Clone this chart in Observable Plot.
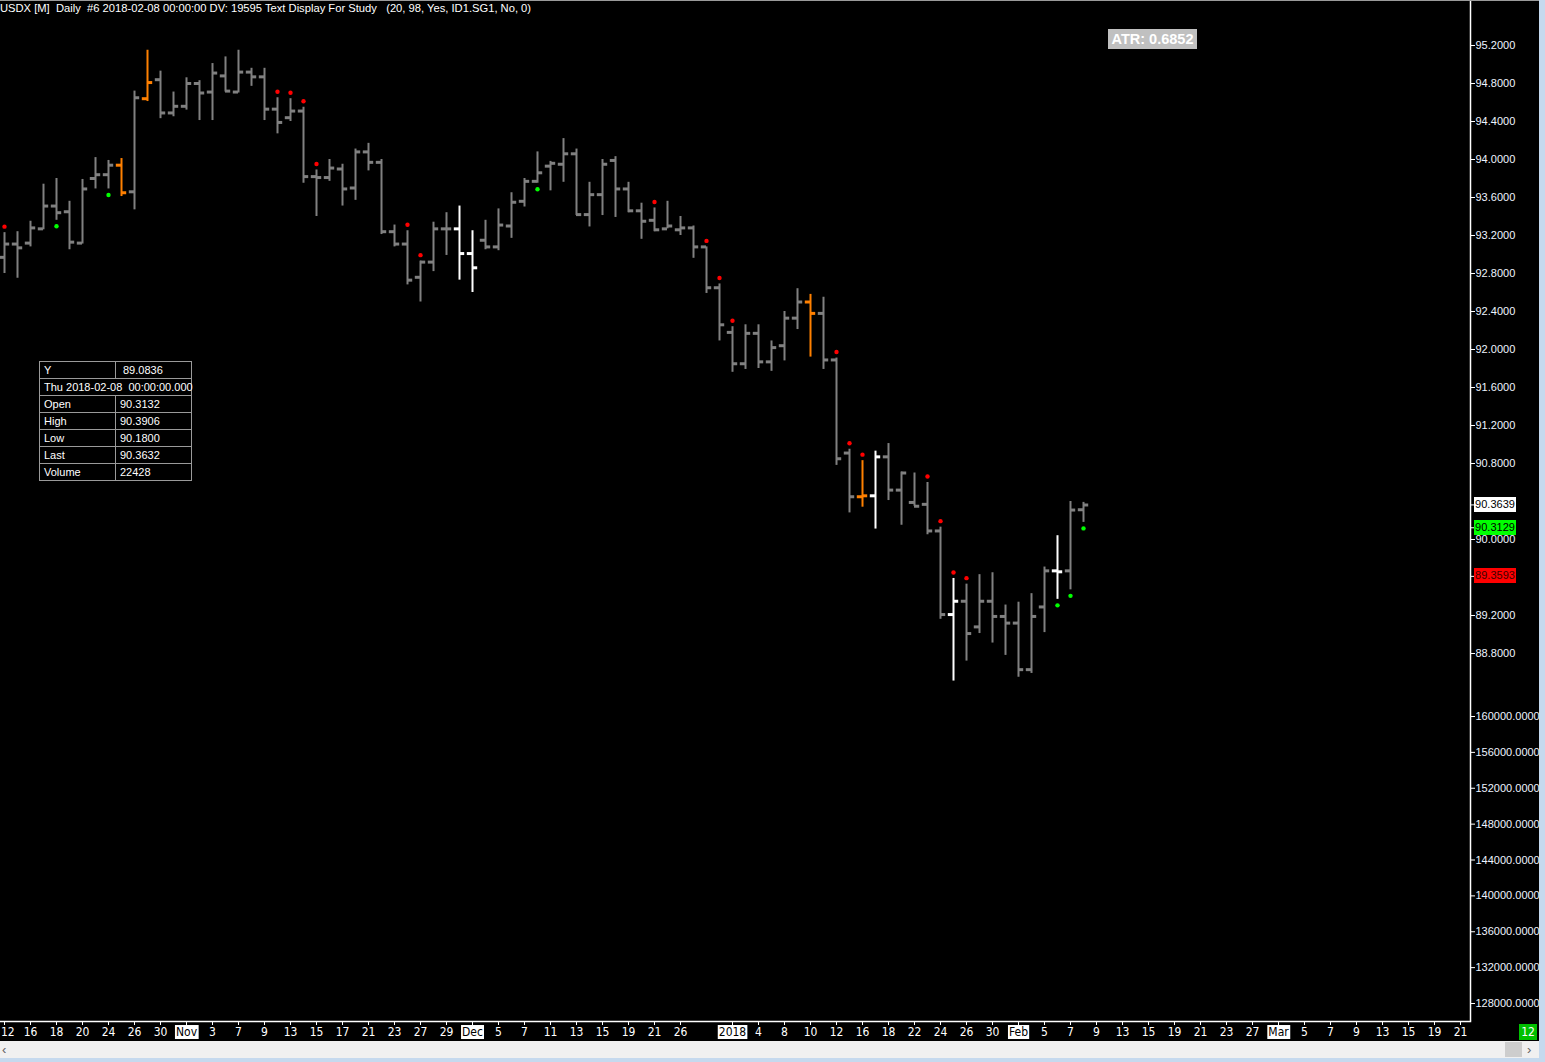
<!DOCTYPE html>
<html><head><meta charset="utf-8">
<script src="https://cdn.jsdelivr.net/npm/d3@7"></script>
<script src="https://cdn.jsdelivr.net/npm/@observablehq/plot@0.6"></script>
<style>
html,body{margin:0;padding:0;background:#000;overflow:hidden;}
#wrap{position:relative;width:1545px;height:1062px;background:#000;overflow:hidden;font-family:"Liberation Sans",Arial,sans-serif;}
#wrap svg{position:absolute;left:0;overflow:visible;}
.ov{position:absolute;white-space:pre;}
#title{left:0px;top:2px;font-size:11.2px;color:#fff;}
#atr{left:1108px;top:29px;width:89px;height:20px;background:#c0c0c0;color:#fff;font-weight:bold;font-size:14.5px;line-height:21px;text-align:center;}
#dw{position:absolute;left:39px;top:361px;width:152px;border-collapse:collapse;table-layout:fixed;font-size:11px;color:#fff;}
#dw td{border:1px solid #9a9a9a;height:16px;padding:0 0 0 4px;line-height:16px;white-space:pre;overflow:visible;}
.mk{position:absolute;left:1474px;width:42px;height:15px;font-size:11px;line-height:15px;text-align:center;color:#000;overflow:visible;white-space:pre;}
#scroll{position:absolute;left:0;top:1041px;width:1540px;height:17px;background:#f0f0f0;}
#thumb{position:absolute;left:1505px;top:1px;width:17px;height:15px;background:#cdcdcd;}
#bottomstrip{position:absolute;left:0;top:1058px;width:1545px;height:4px;background:#c5d9ee;}
#rightstrip{position:absolute;left:1539px;top:0;width:6px;height:1062px;background:#c5d9ee;}
#topline{position:absolute;left:0;top:0;width:1539px;height:1px;background:#9a9a9a;}
#zoomlab{position:absolute;left:1519px;top:1024px;width:18px;height:16px;background:#00c000;color:#fff;font-size:12px;line-height:16px;text-align:center;font-family:"DejaVu Sans Condensed",sans-serif;}
</style></head><body><div id="wrap"></div>
<script>
// ---- data (USDX daily, 2017-10-12 .. 2018-02-08) ----
const opens  = [92.97,93.11,93.12,93.27,93.51,93.45,93.12,93.80,93.84,93.94,93.66,94.64,94.84,94.49,94.56,94.80,94.71,94.88,94.71,94.92,94.87,94.53,94.44,94.51,93.82,93.81,93.90,93.70,94.08,93.97,93.24,93.11,92.76,92.92,93.27,93.27,93.01,93.15,93.08,93.30,93.56,93.77,93.93,93.95,94.06,93.42,93.63,93.99,93.69,93.46,93.36,93.27,93.26,93.28,93.08,92.65,92.18,91.85,92.17,91.87,92.04,92.33,92.50,92.38,91.89,90.91,90.45,90.46,90.87,90.52,90.39,90.37,90.09,89.21,89.35,89.08,89.35,89.19,89.12,88.63,89.29,89.67,89.67,90.3132];
const highs  = [93.23,93.24,93.35,93.74,93.80,93.56,93.79,94.02,93.99,94.01,94.72,95.15,94.93,94.71,94.86,94.83,95.01,95.08,95.15,94.96,94.96,94.65,94.64,94.55,93.89,94.00,93.95,94.11,94.17,94.00,93.31,93.25,92.93,93.34,93.44,93.51,93.25,93.36,93.48,93.65,93.80,94.08,93.98,94.22,94.11,93.76,94.00,94.03,93.76,93.54,93.49,93.56,93.40,93.30,93.08,92.69,92.24,92.26,92.26,92.09,92.40,92.64,92.58,92.55,91.91,90.95,90.83,90.93,91.01,90.71,90.70,90.60,90.13,89.59,89.53,89.63,89.65,89.31,89.34,89.43,89.71,90.04,90.40,90.3906];
const lows   = [92.80,92.75,93.08,93.26,93.36,93.05,93.11,93.69,93.69,93.61,93.47,94.61,94.43,94.45,94.52,94.41,94.41,94.71,94.70,94.77,94.41,94.27,94.40,93.75,93.40,93.77,93.51,93.57,93.88,93.21,93.08,92.68,92.50,92.82,92.99,92.73,92.60,93.05,93.04,93.17,93.50,93.75,93.67,93.76,93.41,93.29,93.41,93.39,93.44,93.16,93.24,93.27,93.20,92.96,92.59,92.09,91.76,91.79,91.80,91.77,91.88,92.21,91.92,91.79,90.78,90.28,90.34,90.11,90.41,90.15,90.35,90.05,89.16,88.51,88.72,89.01,88.91,88.78,88.55,88.59,89.02,89.37,89.47,90.18];
const closes = [93.11,93.07,93.28,93.51,93.44,93.13,93.69,93.84,93.94,93.65,94.65,94.81,94.49,94.56,94.80,94.70,94.91,94.72,94.92,94.87,94.53,94.39,94.51,93.82,93.81,93.91,93.69,94.08,93.97,93.24,93.11,92.73,92.92,93.27,93.27,93.01,92.86,93.08,93.31,93.55,93.77,93.86,93.96,94.06,93.42,93.63,93.95,93.69,93.46,93.35,93.26,93.30,93.28,93.08,92.65,92.26,91.85,92.17,91.87,92.02,92.33,92.50,92.38,91.89,90.85,90.45,90.46,90.87,90.52,90.70,90.35,90.09,89.21,89.35,89.01,89.35,89.19,89.12,88.63,89.19,89.67,89.66,90.31,90.3632];
const orangeBars = [9,11,62,66];
const whiteBars  = [35,36,67,73,81];
const redDotBars   = [0,21,22,23,24,31,32,50,54,55,56,64,65,66,71,72,73,74];
const greenDotBars = [4,8,41,81,82,83];

const xTickIdx    = [0,2,4,6,8,10,12,14,16,18,20,22,24,26,28,30,32,34,36,38,40,42,44,46,48,50,52,56,58,60,62,64,66,68,70,72,74,76,78,80,82,84,86,88,90,92,94,96,98,100,102,104,106,108,110,112];
const xTickLabels = ["12","16","18","20","24","26","30","Nov","3","7","9","13","15","17","21","23","27","29","Dec","5","7","11","13","15","19","21","26","2018","4","8","10","12","16","18","22","24","26","30","Feb","5","7","9","13","15","19","21","23","27","Mar","5","7","9","13","15","19","21"];
const periodLabels = ["Nov","Dec","2018","Feb","Mar"];

const priceTicks  = [95.2,94.8,94.4,94.0,93.6,93.2,92.8,92.4,92.0,91.6,91.2,90.8,90.0,89.2,88.8];
const volumeTicks = [160000,156000,152000,148000,144000,140000,136000,132000,128000];

const markerValues = [90.3639, 90.3129, 89.3593];
const markerColors = ["#ffffff", "#00ff00", "#ff0000"];

const titleText = "USDX [M]  Daily  #6 2018-02-08 00:00:00 DV: 19595 Text Display For Study   (20, 98, Yes, ID1.SG1, No, 0)";
const atrText = "ATR: 0.6852";
const dataWindowRows = [["Y","89.0836"],["Thu 2018-02-08  00:00:00.000"],["Open","90.3132"],["High","90.3906"],["Low","90.1800"],["Last","90.3632"],["Volume","22428"]];

// ---- build ----
const bars = opens.map((o, i) => ({
  i, open: o, high: highs[i], low: lows[i], close: closes[i],
  col: orangeBars.includes(i) ? "#ff8000" : whiteBars.includes(i) ? "#ffffff" : "#808080"
}));
const X0 = -4/13, X1 = 1466/13;
const axisFont = "'Liberation Sans',Arial,sans-serif";
const xFont = "'DejaVu Sans Condensed',sans-serif";
const wrap = document.getElementById("wrap");
const markerShift = [0, 18, -24];

const price = Plot.plot({
  width: 1545, height: 690, marginLeft: 0, marginRight: 75, marginTop: 0, marginBottom: 0,
  style: {background: "transparent", color: "#fff", fontFamily: axisFont, fontSize: "11px", overflow: "visible"},
  x: {domain: [X0, X1], axis: null},
  y: {domain: [88.8, 95.2], range: [653, 45]},
  color: {type: "identity"},
  marks: [
    Plot.ruleX(bars, {x: "i", y1: "low", y2: "high", stroke: "col", strokeWidth: 2}),
    Plot.ruleY(bars, {y: "open", x1: d => d.i - 0.4, x2: "i", stroke: "col", strokeWidth: 3}),
    Plot.ruleY(bars, {y: "close", x1: "i", x2: d => d.i + 0.4, stroke: "col", strokeWidth: 3}),
    Plot.dot(bars.filter(d => redDotBars.includes(d.i)), {x: "i", y: "high", dy: -6, r: 2.2, fill: "#ff0000", stroke: null}),
    Plot.dot(bars.filter(d => greenDotBars.includes(d.i)), {x: "i", y: "low", dy: 6, r: 2.2, fill: "#00ff00", stroke: null}),
    Plot.ruleX([X1], {stroke: "#fff", strokeWidth: 1.5}),
    Plot.axisY({anchor: "right", ticks: priceTicks, tickFormat: d => d.toFixed(4), tickSize: 4, tickPadding: 1, stroke: "#fff", fill: "#eef4ff", label: null}),
    ...markerValues.map((v, k) => Plot.ruleY([v], {x1: X1, x2: X1 + 4/13, dy: markerShift[k], stroke: "#fff"}))
  ]
});
price.style.top = "0px";
wrap.appendChild(price);

const volume = Plot.plot({
  width: 1545, height: 351, marginLeft: 0, marginRight: 75, marginTop: 0, marginBottom: 20,
  style: {background: "transparent", color: "#fff", fontFamily: axisFont, fontSize: "11px", overflow: "visible"},
  x: {domain: [X0, X1]},
  y: {domain: [128000, 160000], range: [313, 26]},
  marks: [
    Plot.ruleX([X1], {stroke: "#fff", strokeWidth: 1.5}),
    Plot.frame({anchor: "bottom", stroke: "#fff", strokeWidth: 1.5}),
    Plot.axisY({anchor: "right", ticks: volumeTicks, tickFormat: d => d.toFixed(4), tickSize: 4, tickPadding: 1, stroke: "#fff", fill: "#eef4ff", label: null}),
    Plot.axisX({anchor: "bottom", ticks: xTickIdx, tickFormat: v => xTickLabels[xTickIdx.indexOf(v)], tickSize: 4, tickPadding: 2, stroke: "#fff", fill: "#fff", label: null, fontFamily: xFont, fontSize: 12})
  ]
});
volume.style.top = "690px";
wrap.appendChild(volume);

// boxed period labels on the time axis; first label kept inside the window
const xLabels = Array.from(volume.querySelectorAll('g[aria-label="x-axis tick label"] text'));
xLabels.forEach((t, n) => {
  if (n === 0) { t.setAttribute("text-anchor", "start"); t.setAttribute("x", -3.5); }
  if (periodLabels.includes(t.textContent)) {
    const b = t.getBBox();
    const r = document.createElementNS("http://www.w3.org/2000/svg", "rect");
    r.setAttribute("x", b.x - 1); r.setAttribute("y", b.y);
    r.setAttribute("width", b.width + 2); r.setAttribute("height", b.height);
    r.setAttribute("fill", "#fff");
    if (t.getAttribute("transform")) r.setAttribute("transform", t.getAttribute("transform"));
    t.parentNode.insertBefore(r, t);
    t.style.fill = "#000";
  }
});

// overlays
function div(id, cls, text) { const d = document.createElement("div"); if (id) d.id = id; d.className = cls; if (text != null) d.textContent = text; wrap.appendChild(d); return d; }
div("topline", "ov");
div("title", "ov", titleText);
div("atr", "ov", atrText);

const tbl = document.createElement("table"); tbl.id = "dw";
const cg = document.createElement("colgroup");
cg.innerHTML = '<col style="width:76px"><col style="width:76px">';
tbl.appendChild(cg);
dataWindowRows.forEach(row => {
  const tr = document.createElement("tr");
  row.forEach((c, k) => { const td = document.createElement("td"); td.textContent = c;
    if (row.length === 1) td.colSpan = 2;
    if (row[0] === "Y" && k === 1) td.style.paddingLeft = "7px";
    tr.appendChild(td); });
  tbl.appendChild(tr);
});
wrap.appendChild(tbl);

const ys = price.scale("y");
markerValues.forEach((v, k) => {
  const m = div(null, "mk", v.toFixed(4));
  m.style.background = markerColors[k];
  if (k === 2) m.style.color = "#400000";
  m.style.top = (ys.apply(v) + markerShift[k] - 7.5) + "px";
});

div("zoomlab", "ov", "12");
const sc = div("scroll", "ov");
sc.innerHTML = '<div style="position:absolute;left:2px;top:0;font-size:13px;color:#606060;line-height:17px">&lsaquo;</div><div id="thumb"></div><div style="position:absolute;left:1527px;top:0;font-size:13px;color:#606060;line-height:17px">&rsaquo;</div>';
div("bottomstrip", "ov");
div("rightstrip", "ov");
</script></body></html>
